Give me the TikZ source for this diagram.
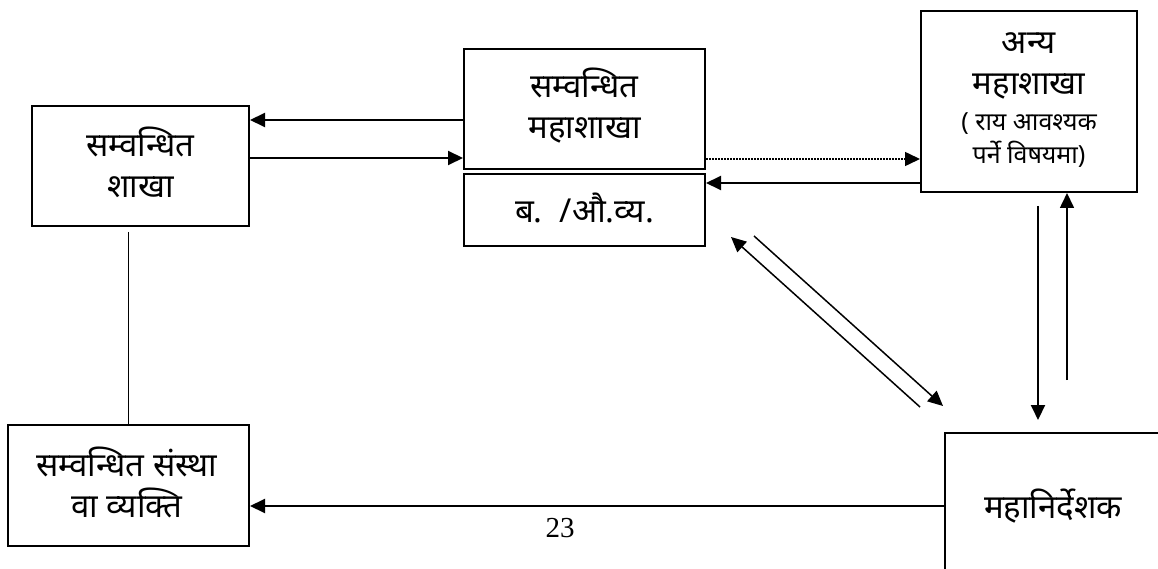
\documentclass[tikz,border=0pt]{standalone}
\usepackage{fontspec}
\newfontfamily\devfont[Script=Devanagari]{Noto Sans}
\newfontfamily\numfont{Liberation Serif}
\usepackage{tikz}
\usetikzlibrary{arrows.meta, positioning}
\tikzstyle{box} = [draw, line width=2pt, rectangle, inner sep=0pt]
\tikzstyle{txt} = [font=\devfont\fontsize{33}{41}\selectfont, align=center, inner sep=0pt]
\tikzstyle{smalltxt} = [font=\devfont\fontsize{25}{33}\selectfont, align=center, inner sep=0pt]
\tikzstyle{arrow} = [line width=2pt, -{Triangle[length=15pt, width=14pt]}]

\begin{document}
\begin{tikzpicture}[x=1pt, y=-1pt]
	\useasboundingbox (0,0) rectangle (1158,569);
	\clip (0,0) rectangle (1158,569);

	% Boxes:
	\node [box, minimum width=217pt, minimum height=120pt] (sakha) at (140.5,166) {};
	\node [box, minimum width=241pt, minimum height=120pt] (mahasakha) at (584.5,109) {};
	\node [box, minimum width=241pt, minimum height=72pt] (bau) at (584.5,210) {};
	\node [box, minimum width=216pt, minimum height=181pt] (anya) at (1029,101.5) {};
	\node [box, minimum width=241pt, minimum height=121pt] (sanstha) at (128.5,485.5) {};
	\node [box, minimum width=260pt, minimum height=200pt] (dg) at (1075,533) {};

	% Texts:
	\node [txt] (sakhat) at (140.5,162) {सम्वन्धित\\शाखा};
	\node [txt] (mahasakhat) at (584.5,106) {सम्वन्धित\\महाशाखा};
	\node [txt] (baut) at (584.5,208) {ब.~~/औ.व्य.};
	\node [txt] (anyat) at (1029,66) {अन्य\\महाशाखा};
	\node [smalltxt] (anyas) at (1029,140) {( राय आवश्यक\\पर्ने विषयमा)};
	\node [txt] (sansthat) at (127,482) {सम्वन्धित संस्था\\वा व्यक्ति};
	\node [txt] (dgt) at (1053,506) {महानिर्देशक};
	\node [font=\numfont\fontsize{29}{32}\selectfont, inner sep=0pt] (pagenum) at (560,528) {23};

	% Horizontal arrows:
	\coordinate (c0) at ([yshift=-11pt]mahasakha.west);
	\draw [arrow] (c0) -- (c0 -| sakha.east);
	\coordinate (c1) at ([yshift=8pt]sakha.east);
	\draw [arrow] (c1) -- (c1 -| mahasakha.west);
	\coordinate (c2) at ([yshift=-50pt]mahasakha.east);
	\draw [arrow, line width=1.5pt, dash pattern=on 1.5pt off 1.5pt] (c2) -- (c2 -| anya.west);
	\coordinate (c3) at ([yshift=27pt]bau.east);
	\draw [arrow] (c3 -| anya.west) -- (c3);
	\coordinate (c4) at ([yshift=-20.5pt]sanstha.east);
	\draw [arrow] (c4 -| dg.west) -- (c4);

	% Plain line:
	\coordinate (c5) at (0,232);
	\draw [line width=1.5pt] (sanstha.north |- c5) -- (sanstha.north);

	% Vertical arrows:
	\draw [arrow] (1038,206) -- (1038,420);
	\draw [arrow, line width=1.6pt] (1067,380) -- (anya.south -| 1067,0);

	% Diagonal arrows:
	\draw [arrow, line width=1.5pt] ([shift={(-24pt,25pt)}]dg.north west) -- ([shift={(25pt,10pt)}]bau.south east);
	\draw [arrow, line width=1.5pt] ([shift={(48pt,11pt)}]bau.south east) -- ([shift={(-1pt,26pt)}]dg.north west);

\end{tikzpicture}
\end{document}
